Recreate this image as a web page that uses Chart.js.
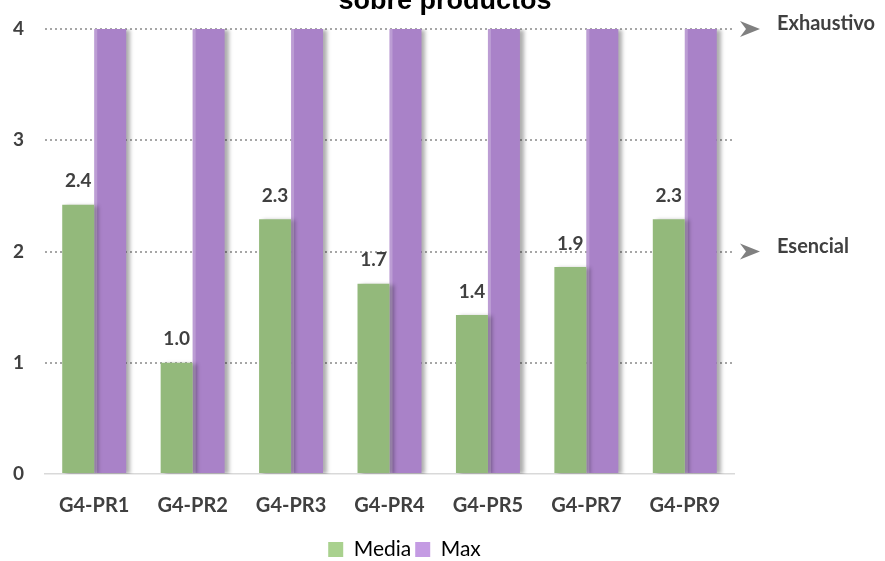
<!DOCTYPE html>
<html>
<head>
<meta charset="utf-8">
<script src="https://cdn.jsdelivr.net/npm/chart.js@4.4.1/dist/chart.umd.min.js"></script>
<style>
  html, body { margin: 0; padding: 0; background: #fff; }
  #wrap { width: 885px; height: 561px; position: relative; }
</style>
</head>
<body>
<div id="wrap"><canvas id="chart"></canvas></div>
<script>
// chart data
const categories = ['G4-PR1', 'G4-PR2', 'G4-PR3', 'G4-PR4', 'G4-PR5', 'G4-PR7', 'G4-PR9'];
const mediaValues = [2.42, 1.0, 2.29, 1.71, 1.43, 1.86, 2.29];
const maxValues = [4, 4, 4, 4, 4, 4, 4];
const yTicks = [0, 1, 2, 3, 4];
const levelValues = [4, 2];
const levelLabels = ['Exhaustivo', 'Esencial'];
const titleText = 'sobre productos';

const FONT = 'Lato, "Open Sans", sans-serif';
const TEXT = '#404040';

// shadow behind the bars
const barShadow = {
    id: 'barShadow',
    beforeDatasetsDraw(chart) {
        const ctx = chart.ctx;
        ctx.save();
        ctx.shadowColor = 'rgba(0, 0, 0, 0.32)';
        ctx.shadowBlur = 4;
        ctx.shadowOffsetX = 4;
        ctx.shadowOffsetY = 1;
    },
    afterDatasetsDraw(chart) {
        chart.ctx.restore();
    }
};

// value labels above the green bars, light edge on purple bars
const mediaLabels = {
    id: 'mediaLabels',
    afterDatasetsDraw(chart) {
        const ctx = chart.ctx;
        ctx.save();
        chart.getDatasetMeta(1).data.forEach(bar => {
            ctx.fillStyle = 'rgba(255, 255, 255, 0.22)';
            ctx.fillRect(bar.x - bar.width / 2, bar.y, 3, bar.base - bar.y);
        });
        ctx.font = 'bold 19px ' + FONT;
        ctx.fillStyle = TEXT;
        ctx.textAlign = 'center';
        ctx.textBaseline = 'bottom';
        chart.getDatasetMeta(0).data.forEach((bar, i) => {
            ctx.fillText(mediaValues[i].toFixed(1), bar.x, bar.y - 14);
        });
        ctx.restore();
    }
};

// arrows + level names on the right, and the cropped title
const extras = {
    id: 'extras',
    afterLayout(chart) {
        // legend sits a bit right of the plot centre
        chart.legend.left += 31;
        chart.legend.right += 31;
    },
    afterDraw(chart) {
        const ctx = chart.ctx;
        const y = chart.scales.y;
        ctx.save();
        levelValues.forEach((v, i) => {
            const py = y.getPixelForValue(v);
            const ax = 740;
            ctx.fillStyle = '#808080';
            ctx.beginPath();
            ctx.moveTo(ax, py - 8);
            ctx.lineTo(ax + 20, py);
            ctx.lineTo(ax, py + 8);
            ctx.lineTo(ax + 6, py);
            ctx.closePath();
            ctx.fill();
            ctx.font = 'bold 20px ' + FONT;
            ctx.fillStyle = TEXT;
            ctx.textAlign = 'left';
            ctx.textBaseline = 'middle';
            ctx.fillText(levelLabels[i], 777, py - 5);
        });
        ctx.font = 'bold 27px "Liberation Sans", Arial, sans-serif';
        ctx.fillStyle = '#000';
        ctx.textAlign = 'center';
        ctx.textBaseline = 'alphabetic';
        ctx.fillText(titleText, 445, 9);
        ctx.restore();
    }
};

new Chart(document.getElementById('chart'), {
    type: 'bar',
    data: {
        labels: categories,
        datasets: [{
            label: 'Media',
            data: mediaValues,
            backgroundColor: '#93b97b',
            borderWidth: 0
        }, {
            label: 'Max',
            data: maxValues,
            backgroundColor: '#a982c8',
            borderWidth: 0
        }]
    },
    options: {
        responsive: true,
        maintainAspectRatio: false,
        animation: false,
        layout: {
            padding: { top: 29, right: 151, left: 13, bottom: -9 }
        },
        categoryPercentage: 0.65,
        barPercentage: 1.0,
        plugins: {
            title: { display: false },
            tooltip: { enabled: false },
            legend: {
                position: 'bottom',
                labels: {
                    font: { family: FONT, size: 21 },
                    color: '#595959',
                    boxWidth: 15,
                    boxHeight: 15,
                    padding: 4,
                    generateLabels() {
                        return [
                            { text: 'Media', fillStyle: '#a9d18e', strokeStyle: '#a9d18e', lineWidth: 0, datasetIndex: 0 },
                            { text: 'Max', fillStyle: '#c49be3', strokeStyle: '#c49be3', lineWidth: 0, datasetIndex: 1 }
                        ];
                    }
                }
            }
        },
        scales: {
            x: {
                grid: { display: false, drawTicks: false },
                border: { color: '#d9d9d9', width: 1.5 },
                ticks: {
                    font: { family: FONT, size: 20, weight: 'bold' },
                    color: TEXT,
                    padding: 20
                },
                afterFit(scale) { scale.height = 61; }
            },
            y: {
                min: 0,
                max: 4,
                afterBuildTicks(scale) {
                    scale.ticks = yTicks.map(v => ({ value: v }));
                },
                grid: {
                    drawTicks: false,
                    color: ctx => ctx.tick.value === 0 ? 'rgba(0,0,0,0)' : '#a6a6a6',
                    lineWidth: 2
                },
                border: { display: false, dash: [2, 3] },
                ticks: {
                    font: { family: FONT, size: 19, weight: 'bold' },
                    color: TEXT,
                    padding: 2,
                    crossAlign: 'far'
                },
                afterFit(scale) { scale.width = 32; }
            }
        }
    },
    plugins: [barShadow, mediaLabels, extras]
});
</script>
</body>
</html>
